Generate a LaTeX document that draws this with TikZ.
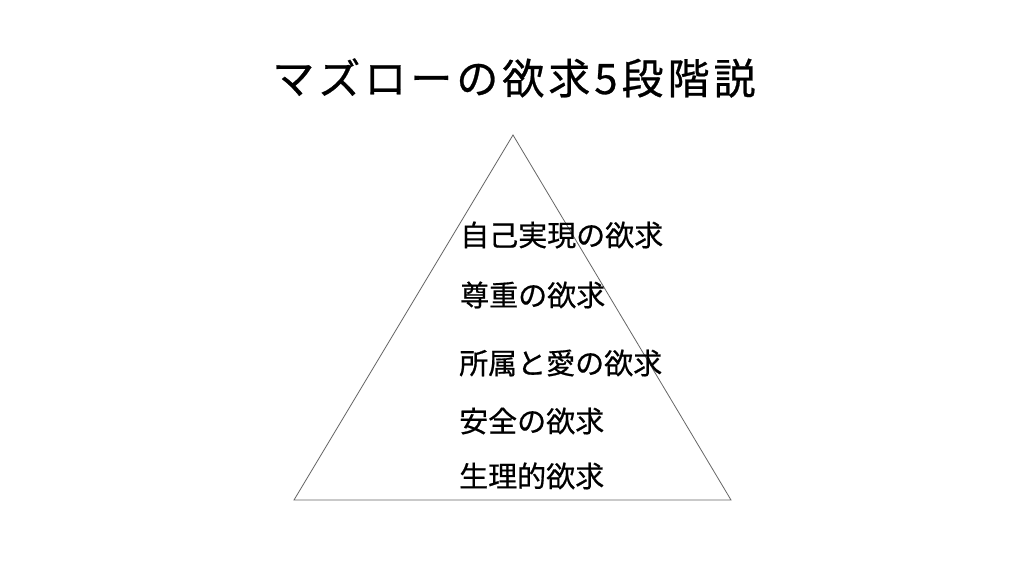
\documentclass[tikz,border=0pt]{standalone}
\usepackage{fontspec}
\newfontfamily\jpfont[FakeBold=0.6]{Noto Sans CJK JP}
\newfontfamily\jptitle[LetterSpace=9.5,FakeBold=0.6]{Noto Sans CJK JP}
\begin{document}
\begin{tikzpicture}[x=1pt,y=-1pt,
  lbl/.style={anchor=base west,inner sep=0pt,font=\jpfont\fontsize{29}{29}\selectfont},
  ttl/.style={anchor=base,inner sep=0pt,font=\jptitle\fontsize{42}{42}\selectfont}]
\useasboundingbox[fill=white] (0,0) rectangle (1024,576);
\coordinate (apex) at (513,135);
\coordinate (bl) at (294,500);
\coordinate (br) at (731,500);
\draw[gray!80!black,line width=0.8pt,line join=miter] (apex) -- (bl) -- (br) -- cycle;
\node[ttl] (title) at (514,94) {マズローの欲求5段階説};
\node[lbl] (l1) at (460,246) {自己実現の欲求};
\node[lbl] (l2) at (460,306) {尊重の欲求};
\node[lbl] (l3) at (459,374) {所属と愛の欲求};
\node[lbl] (l4) at (459,432) {安全の欲求};
\node[lbl] (l5) at (459,487) {生理的欲求};
\end{tikzpicture}
\end{document}
